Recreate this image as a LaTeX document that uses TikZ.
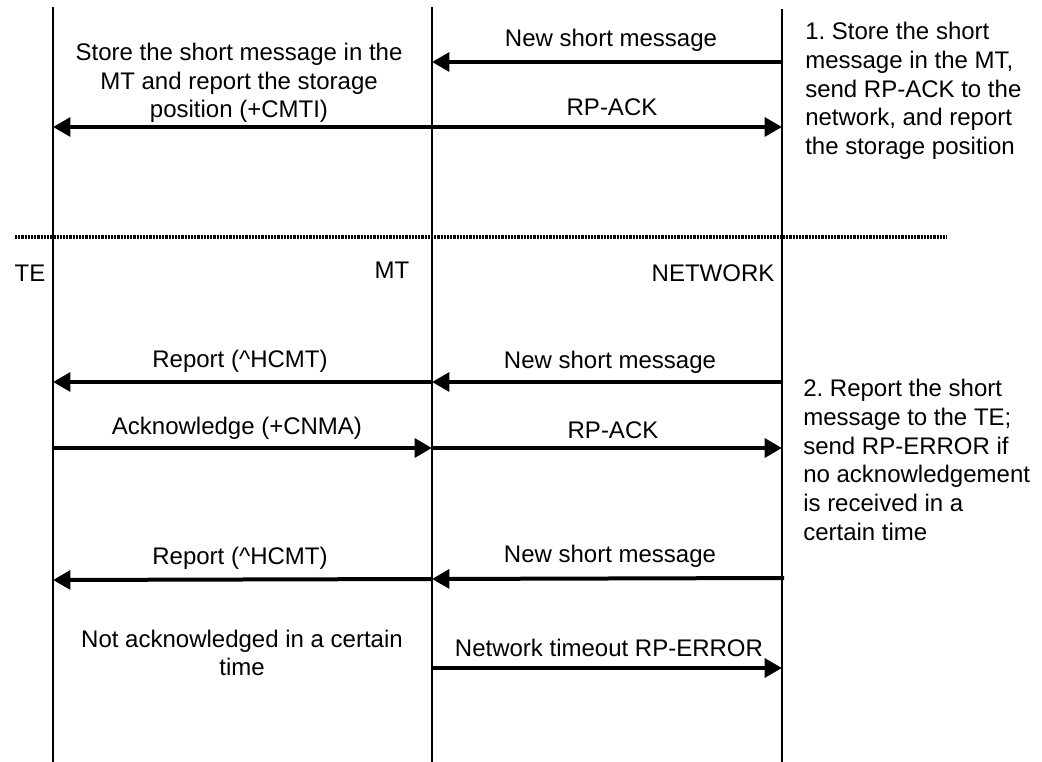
\documentclass[tikz,border=0pt]{standalone}
\usepackage{fontspec}
\setmainfont{Liberation Sans}
\usetikzlibrary{arrows.meta}
\frenchspacing
\begin{document}
\begin{tikzpicture}[x=0.75pt,y=-0.75pt,
  life/.style={line width=1.5pt},
  msg/.style={line width=3pt,-{Triangle[length=13pt,width=14pt]}},
  lbl/.style={inner sep=0pt,font=\fontsize{18}{21.5}\selectfont,align=center},
  note/.style={inner sep=0pt,font=\fontsize{18}{21.5}\selectfont,align=left,anchor=west},
  sep/.style={line width=3.2pt,dash pattern=on 1.6pt off 0.8pt}]
\useasboundingbox (0,0) rectangle (1042,762);
% lifelines
\coordinate (teT) at (53,7);   \coordinate (teB) at (53,762);
\coordinate (mtT) at (432,7);  \coordinate (mtB) at (432,762);
\coordinate (nwT) at (782,9);  \coordinate (nwB) at (782,762);
\draw[life] (teT) -- (teB);
\draw[life] (mtT) -- (mtB);
\draw[life] (nwT) -- (nwB);
% separator
\coordinate (sepL) at (15,237); \coordinate (sepR) at (947,237);
\draw[sep] (sepL) -- (sepR);
% entity labels
\node[lbl] (te) at (30,273) {TE};
\node[lbl] (mt) at (392,270) {MT};
\node[lbl] (nw) at (713,273) {NETWORK};
% scenario 1
\coordinate (a1n) at (782,62);  \coordinate (a1m) at (432,62);
\coordinate (a2m) at (432,127); \coordinate (a2n) at (782,127); \coordinate (a2t) at (53,127);
\draw[msg] (a1n) -- (a1m);
\draw[msg] (a2m) -- (a2n);
\draw[msg] (a2m) -- (a2t);
\node[lbl] (l1) at (611,40) {New short message};
\node[lbl] (l2) at (612,107) {RP-ACK};
\node[lbl] (l3) at (239,83) {Store the short message in the\\MT and report the storage\\position (+CMTI)};
\node[note] (n1) at (805,91) {1. Store the short\\message in the MT,\\send RP-ACK to the\\network, and report\\the storage position};
% scenario 2
\coordinate (b1n) at (782,382); \coordinate (b1m) at (432,382); \coordinate (b1t) at (53,382);
\coordinate (b2t) at (53,448);  \coordinate (b2m) at (432,448); \coordinate (b2n) at (782,448);
\draw[msg] (b1n) -- (b1m);
\draw[msg] (b1m) -- (b1t);
\draw[msg] (b2t) -- (b2m);
\draw[msg] (b2m) -- (b2n);
\node[lbl] (l4) at (240,361) {Report (\textasciicircum HCMT)};
\node[lbl] (l5) at (610,362) {New short message};
\node[lbl] (l6) at (237,428) {Acknowledge (+CNMA)};
\node[lbl] (l7) at (613,430) {RP-ACK};
\node[note] (n2) at (803,460) {2. Report the short\\message to the TE;\\send RP-ERROR if\\no acknowledgement\\is received in a\\certain time};
% scenario 3
\coordinate (c1n) at (784,578); \coordinate (c1m) at (432,579); \coordinate (c1t) at (53,580);
\coordinate (c2m) at (432,668); \coordinate (c2n) at (782,668);
\draw[msg] (c1n) -- (c1m);
\draw[msg] (c1m) -- (c1t);
\draw[msg] (c2m) -- (c2n);
\node[lbl] (l8) at (240,558) {Report (\textasciicircum HCMT)};
\node[lbl] (l9) at (610,556) {New short message};
\node[lbl] (l10) at (609,648) {Network timeout RP-ERROR};
\node[lbl] (l11) at (242,653) {Not acknowledged in a certain\\time};
\end{tikzpicture}
\end{document}
